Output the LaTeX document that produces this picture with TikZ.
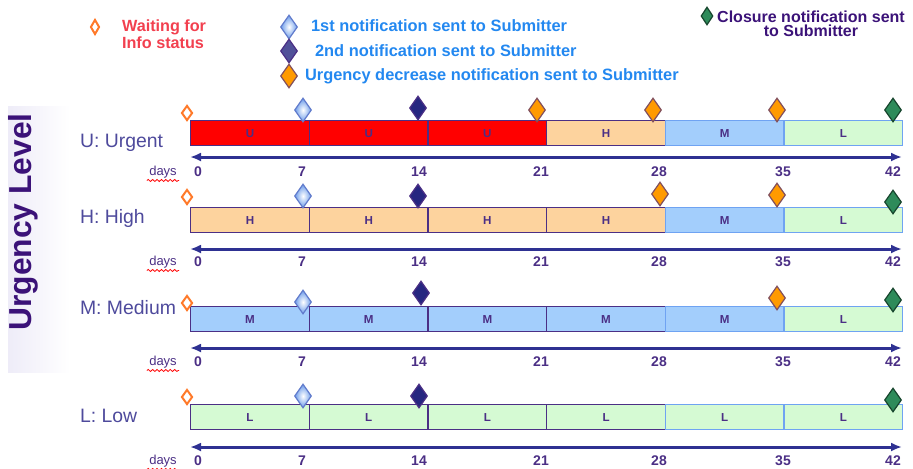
\documentclass[tikz,border=0pt]{standalone}
\usepackage{fontspec}
\setmainfont{Liberation Sans}
\usetikzlibrary{arrows.meta, positioning, shapes.geometric, decorations.pathmorphing}
\definecolor{cpurple}{HTML}{4B2F85}
\definecolor{clabel}{HTML}{4E4A9C}
\definecolor{ctitle}{HTML}{3B1278}
\definecolor{cnavy}{HTML}{2E3192}
\definecolor{cred}{HTML}{FF0000}
\definecolor{cpeach}{HTML}{FDD39E}
\definecolor{csky}{HTML}{A3CEFC}
\definecolor{cmint}{HTML}{D5FAD3}
\definecolor{cedge}{HTML}{6FA3F2}
\definecolor{corange}{HTML}{FF9A00}
\definecolor{cgreen}{HTML}{2E8B5A}
\definecolor{cdodger}{HTML}{2388F0}
\definecolor{csalmon}{HTML}{F2404F}
\definecolor{cwait}{HTML}{FF7A2A}
\definecolor{cdeep}{HTML}{262680}
\definecolor{cice}{HTML}{6A9BEA}
\definecolor{clav}{HTML}{EEECF8}
\tikzset{
  dmd/.style={diamond, inner sep=0pt, minimum width=8.5pt, minimum height=12pt, line width=0.6pt},
  waitdmd/.style={dmd, draw=cwait, fill=white, line width=1pt, minimum width=5.5pt, minimum height=7.5pt},
  firstdmd/.style={dmd, draw=cice!70!cpurple, inner color=white, outer color=cice},
  seconddmd/.style={dmd, draw=cpurple, fill=cdeep},
  decdmd/.style={dmd, draw=cpurple!70!corange, fill=corange},
  closedmd/.style={dmd, draw=cgreen!50!black, fill=cgreen},
  legend/.style={anchor=west, font=\bfseries\fontsize{8.2}{7}\selectfont, text=cdodger},
}

\begin{document}
\begin{tikzpicture}[x=0.5pt, y=-0.5pt,
    seg/.style={fill=#1, line width=0.7pt, minimum width=59.33pt, minimum height=12.5pt, inner sep=0pt,
      anchor=north west, text=cpurple, font=\bfseries\fontsize{5.8}{6}\selectfont},
    timeline/.style={{Latex[length=5.5pt,width=4.5pt]}-{Latex[length=5.5pt,width=4.5pt]}, draw=cnavy, line width=1.5pt},
    daynum/.style={text=cpurple, font=\bfseries\fontsize{7}{8}\selectfont, inner sep=1pt},
    dayword/.style={text=cpurple, font=\fontsize{6.5}{7}\selectfont, inner sep=1pt},
    rowlabel/.style={anchor=west, text=clabel, font=\fontsize{9.7}{11}\selectfont},
    squiggle/.style={draw=red, line width=0.4pt, decorate, decoration={snake, amplitude=0.5pt, segment length=2.2pt}}]
  \useasboundingbox (0,0) rectangle (913,468);
  % side title
  \fill[left color=clav, right color=white] (8,106) rectangle (70,372);
  \node[rotate=90, text=ctitle, font=\bfseries\fontsize{15.9}{18}\selectfont] (title) at (23,222) {Urgency Level};
  % legend
  \node[waitdmd, minimum width=4.5pt] (lwait) at (95,27) {};
  \node[anchor=west, align=left, text=csalmon, font=\bfseries\fontsize{8.1}{7}\selectfont] (twait) at (115,34) {Waiting for\\Info status};
  \node[firstdmd] (lfirst) at (289,27) {};
  \node[legend] (tfirst) at (304,26) {1st notification sent to Submitter};
  \node[seconddmd, fill=cdeep!80!white] (lsecond) at (289,51) {};
  \node[legend] (tsecond) at (308,51) {2nd notification sent to Submitter};
  \node[decdmd] (ldec) at (289,76) {};
  \node[legend] (tdec) at (298,76) {Urgency decrease notification sent to Submitter};
  \node[closedmd, minimum width=6pt, minimum height=9pt] (lclose) at (707,16) {};
  \node[align=center, text=ctitle, font=\bfseries\fontsize{8}{7}\selectfont] (tclose) at (811,24) {Closure notification sent\\to Submitter};
  % rows: bars, time lines, day numbers
  \foreach \r/\ty/\ay/\ly/\ny/\lab/\segs in {
      1/120/157/172/143/{U: Urgent}/{cred/U,cred/U,cred/U,cpeach/H,csky/M,cmint/L},
      2/207/249/262/218/{H: High}/{cpeach/H,cpeach/H,cpeach/H,cpeach/H,csky/M,cmint/L},
      3/306/348/362/308/{M: Medium}/{csky/M,csky/M,csky/M,csky/M,csky/M,cmint/L},
      4/404/447/461/416/{L: Low}/{cmint/L,cmint/L,cmint/L,cmint/L,cmint/L,cmint/L}} {
    \node[rowlabel] (lab\r) at (73,\ny) {\lab};
    \foreach \c/\l [count=\i] in \segs {
      \ifnum\i>4 \def\bd{cedge}\else\def\bd{cpurple}\fi
      \node[seg=\c, draw=\bd] (s\r-\i) at ({190+(\i-1)*118.67},\ty) {\l};
    }
    \coordinate (tl\r) at (190,\ay);
    \coordinate (tr\r) at (902,\ay);
    \draw[timeline] (tl\r) -- (tr\r);
    \node[dayword] (days\r) at (163,\ly) {days};
    \draw[squiggle] (days\r.south west) -- (days\r.south east);
    \foreach \d/\px in {0/198,7/302,14/419,21/541,28/659,35/783,42/893}
      \node[daynum] (n\r-\d) at (\px,\ly) {\d};
  }
  % markers
  \foreach \y [count=\i] in {113,197,303,397}
    \node[waitdmd] (wait\i) at (187,\y) {};
  \foreach \y [count=\i] in {110,196,302,396}
    \node[firstdmd] (first\i) at (303,\y) {};
  \foreach \x/\y [count=\i] in {418/108,418/196,421/293,419/396}
    \node[seconddmd] (second\i) at (\x,\y) {};
  \foreach \x/\y [count=\i] in {537/110,653/110,777/110,660/194,777/195,777/298}
    \node[decdmd] (dec\i) at (\x,\y) {};
  \foreach \y [count=\i] in {110,202,300,400}
    \node[closedmd] (close\i) at (893,\y) {};
\end{tikzpicture}
\end{document}
